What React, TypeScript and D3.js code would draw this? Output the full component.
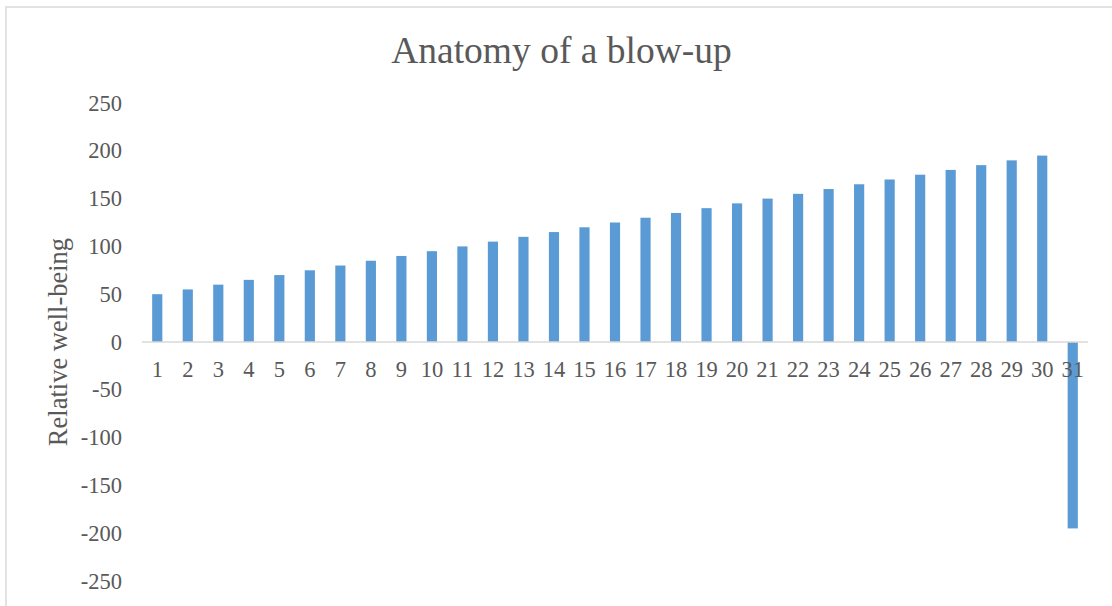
import React from "react";
import * as d3 from "d3";

const categories: string[] = [
  "1","2","3","4","5","6","7","8","9","10","11","12","13","14","15","16",
  "17","18","19","20","21","22","23","24","25","26","27","28","29","30","31",
];
const values: number[] = [
  50, 55, 60, 65, 70, 75, 80, 85, 90, 95, 100, 105, 110, 115, 120, 125,
  130, 135, 140, 145, 150, 155, 160, 165, 170, 175, 180, 185, 190, 195, -195,
];
const yTicks: number[] = [250, 200, 150, 100, 50, 0, -50, -100, -150, -200, -250];
const title = "Anatomy of a blow-up";
const yTitle = "Relative well-being";

const W = 1112;
const H = 606;
const FONT = "'Liberation Serif', 'Times New Roman', serif";
const TEXT = "#595959";
const GRID = "#d9d9d9";
const BAR = "#5b9bd5";

export default function App() {
  const x = d3
    .scaleBand<string>()
    .domain(categories)
    .range([142, 1088])
    .paddingInner(2 / 3)
    .paddingOuter(1 / 3);
  const y = d3.scaleLinear().domain([-250, 250]).range([581, 103]);
  const y0 = y(0);

  return (
    <svg
      width={W}
      height={H}
      style={{ position: "absolute", left: 0, top: 0, background: "#fff" }}
      fontFamily={FONT}
    >
      <rect x={0} y={0} width={W} height={H} fill="#fff" />
      <rect x={6} y={7} width={W + 50} height={H + 50} fill="none" stroke={GRID} strokeWidth={1.5} />
      <text x={561.5} y={63} textAnchor="middle" fontSize={37.5} fill={TEXT}>
        {title}
      </text>
      {yTicks.map((t) => (
        <text key={t} x={122} y={y(t) + 7.5} textAnchor="end" fontSize={22.5} fill={TEXT}>
          {t}
        </text>
      ))}
      <text
        transform={`translate(67,${(y(250) + y(-250)) / 2}) rotate(-90)`}
        textAnchor="middle"
        fontSize={26.5}
        fill={TEXT}
      >
        {yTitle}
      </text>
      {values.map((v, i) => {
        const c = categories[i];
        const top = Math.min(y(v), y0);
        const h = Math.abs(y(v) - y0);
        return <rect key={c} x={x(c)!} y={top} width={x.bandwidth()} height={h} fill={BAR} />;
      })}
      <line x1={142} x2={1088} y1={y0} y2={y0} stroke={GRID} strokeWidth={1.5} />
      {categories.map((c) => (
        <text
          key={c}
          x={x(c)! + x.bandwidth() / 2}
          y={377}
          textAnchor="middle"
          fontSize={22.5}
          fill={TEXT}
        >
          {c}
        </text>
      ))}
    </svg>
  );
}
